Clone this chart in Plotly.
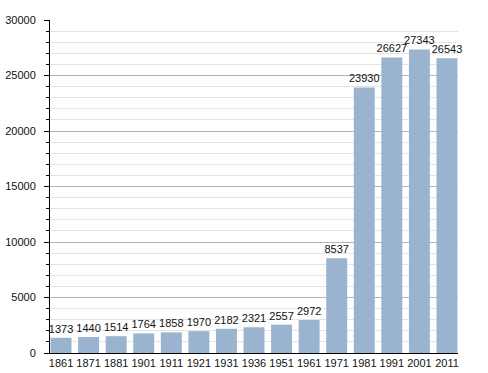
import plotly.graph_objects as go

years = ["1861", "1871", "1881", "1901", "1911", "1921", "1931", "1936",
         "1951", "1961", "1971", "1981", "1991", "2001", "2011"]
population = [1373, 1440, 1514, 1764, 1858, 1970, 2182, 2321,
              2557, 2972, 8537, 23930, 26627, 27343, 26543]
y_ticks = [0, 5000, 10000, 15000, 20000, 25000, 30000]

fig = go.Figure(go.Bar(
    x=years, y=population,
    text=[str(v) for v in population],
    textposition="outside",
    constraintext="none",
    textfont=dict(family="Liberation Sans, Arial, sans-serif", size=11, color="#111"),
    marker=dict(color="#9AB3CF", line=dict(width=0)),
    cliponaxis=False,
    hoverinfo="skip",
))

fig.update_layout(
    width=488, height=373,
    margin=dict(l=50, r=30, t=20, b=20),
    paper_bgcolor="white", plot_bgcolor="white",
    bargap=0.24,
    showlegend=False,
    font=dict(family="Liberation Sans, Arial, sans-serif", size=11, color="#222"),
)
fig.update_xaxes(
    type="category", range=[-0.4, 14.4], automargin=False,
    showline=True, linecolor="black", linewidth=1,
    ticks="", showgrid=False,
    tickfont=dict(size=11, color="#111"),
)
fig.update_yaxes(
    range=[0, 30000], tickvals=y_ticks, ticktext=[str(v) for v in y_ticks],
    automargin=False,
    showline=True, linecolor="black", linewidth=1,
    ticks="outside", ticklen=5, tickcolor="black",
    showgrid=True, gridcolor="#b4b4b4", gridwidth=1,
    minor=dict(dtick=1000, showgrid=True, gridcolor="#e4e4e4",
               ticks="outside", ticklen=3, tickcolor="black"),
    zeroline=False,
    ticklabelstandoff=6,
    tickfont=dict(size=11, color="#111"),
)

fig.write_html("out.html",
               config={"displayModeBar": False},
               post_script="document.body.style.margin='0';document.body.style.padding='0';")
